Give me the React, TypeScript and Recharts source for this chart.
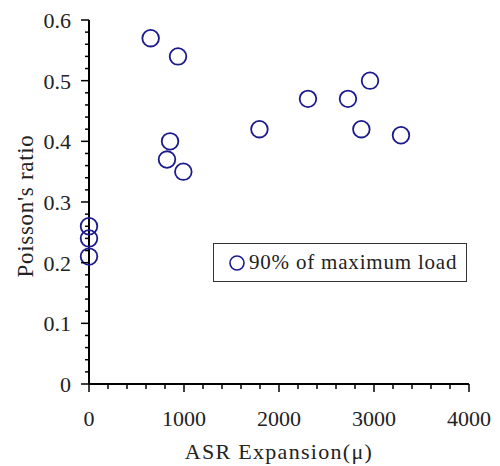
import React from 'react';
import { ScatterChart, Scatter, XAxis, YAxis, Legend } from 'recharts';

const seriesName = '90% of maximum load';
const xTitle = 'ASR Expansion(\u03bc)';
const yTitle = "Poisson's ratio";

const expansion = [0, 0, 0, 649, 937, 853, 821, 993, 1794, 2305, 2726, 2958, 2867, 3284];
const poisson = [0.26, 0.24, 0.21, 0.57, 0.54, 0.40, 0.37, 0.35, 0.42, 0.47, 0.47, 0.50, 0.42, 0.41];

const xTicks = [0, 200, 400, 600, 800, 1000, 1200, 1400, 1600, 1800, 2000, 2200, 2400, 2600, 2800, 3000, 3200, 3400, 3600, 3800, 4000];
const xMajor = [0, 1000, 2000, 3000, 4000];
const yTicks = [0, 0.02, 0.04, 0.06, 0.08, 0.1, 0.12, 0.14, 0.16, 0.18, 0.2, 0.22, 0.24, 0.26, 0.28, 0.3, 0.32, 0.34, 0.36, 0.38, 0.4, 0.42, 0.44, 0.46, 0.48, 0.5, 0.52, 0.54, 0.56, 0.58, 0.6];
const yMajor = [0, 0.1, 0.2, 0.3, 0.4, 0.5, 0.6];

const points = expansion.map((x, i) => ({ x, y: poisson[i] }));

const FONT = '"Liberation Serif", "Times New Roman", serif';
const MARK = '#1a1a8c';
const TXT = '#222';

const isMajorY = (v: number) => yMajor.some((m) => Math.abs(m - v) < 1e-9);

const XTick = (props: any) => {
  const { x, y, payload } = props;
  const v = payload.value;
  const major = xMajor.includes(v);
  return (
    <g>
      <line x1={x} x2={x} y1={y} y2={y + (major ? 8 : 5)} stroke="#000" strokeWidth={1.5} />
      {major && (
        <text x={x} y={y + 42} textAnchor="middle" fontSize={22} fontFamily={FONT} fill={TXT}>
          {String(v)}
        </text>
      )}
    </g>
  );
};

const YTick = (props: any) => {
  const { x, y, payload } = props;
  const v = payload.value;
  const major = isMajorY(v);
  return (
    <g>
      <line x1={x} x2={x - (major ? 8 : 4)} y1={y} y2={y} stroke="#000" strokeWidth={1.5} />
      {major && (
        <text x={x - 18} y={y + 8} textAnchor="end" fontSize={22} fontFamily={FONT} fill={TXT}>
          {String(Math.round(v * 10) / 10)}
        </text>
      )}
    </g>
  );
};

const XTitle = (props: any) => {
  const vb = props.viewBox || {};
  return (
    <text x={vb.x + vb.width / 2} y={vb.y + 75} textAnchor="middle" fontSize={22} letterSpacing={1.3} fontFamily={FONT} fill={TXT}>
      {xTitle}
    </text>
  );
};

const YTitle = () => {
  const cx = 33;
  const cy = 206;
  return (
    <text x={cx} y={cy} textAnchor="middle" fontSize={23} letterSpacing={0.7} fontFamily={FONT} fill={TXT} transform={`rotate(-90, ${cx}, ${cy})`}>
      {yTitle}
    </text>
  );
};

const Ring = (props: any) => {
  const { cx, cy } = props;
  return <circle cx={cx} cy={cy} r={8.3} fill="none" stroke={MARK} strokeWidth={1.8} />;
};

const LegendBox = () => (
  <div
    style={{
      boxSizing: 'border-box',
      width: 254,
      height: 39,
      border: '1px solid #333',
      background: '#fff',
      display: 'flex',
      alignItems: 'center',
      paddingLeft: 15,
      fontFamily: FONT,
      fontSize: 21,
      letterSpacing: 0.8,
      color: TXT,
      whiteSpace: 'nowrap',
    }}
  >
    <svg width={16} height={16} style={{ marginRight: 4, flex: 'none' }}>
      <circle cx={8} cy={8} r={7} fill="none" stroke={MARK} strokeWidth={1.6} />
    </svg>
    <span>{seriesName}</span>
  </div>
);

export default function App() {
  return (
    <div style={{ position: 'absolute', left: 0, top: 0, width: 500, height: 466, background: '#fff' }}>
      <ScatterChart width={500} height={466} margin={{ top: 20, right: 31, left: 0, bottom: 0 }}>
        <XAxis
          type="number"
          dataKey="x"
          domain={[0, 4000]}
          ticks={xTicks}
          interval={0}
          tickSize={0}
          tickMargin={0}
          tickLine={false}
          tick={<XTick />}
          height={82}
          axisLine={{ stroke: '#000', strokeWidth: 2 }}
          label={{ content: <XTitle /> } as any}
        />
        <YAxis
          type="number"
          dataKey="y"
          domain={[0, 0.6]}
          ticks={yTicks}
          interval={0}
          tickSize={0}
          tickMargin={0}
          tickLine={false}
          tick={<YTick />}
          width={89}
          axisLine={{ stroke: '#000', strokeWidth: 2 }}
          label={{ content: <YTitle /> } as any}
        />
        <Legend
          layout="vertical"
          align="center"
          verticalAlign="middle"
          content={<LegendBox />}
          wrapperStyle={{ left: 213, top: 243, width: 254, height: 39 }}
        />
        <Scatter name={seriesName} data={points} shape={<Ring />} isAnimationActive={false} />
      </ScatterChart>
    </div>
  );
}
